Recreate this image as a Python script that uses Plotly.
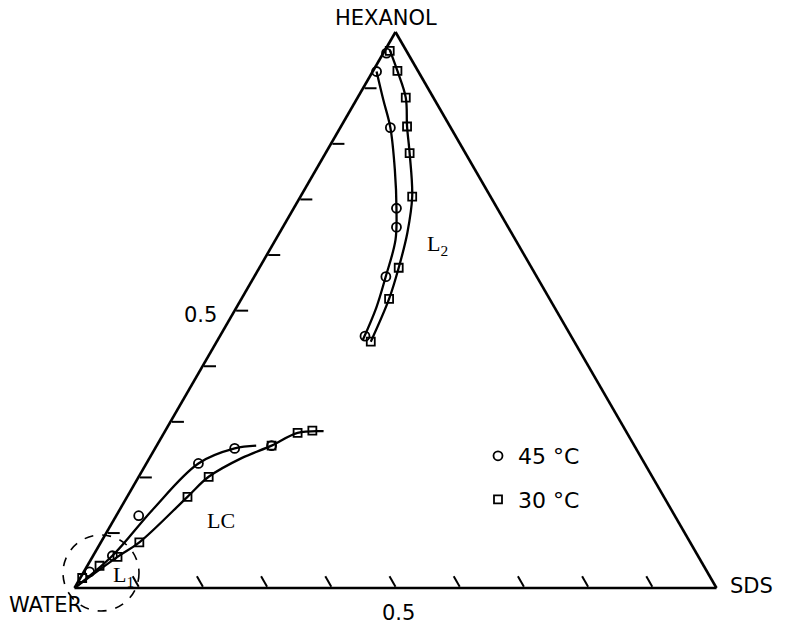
import plotly.graph_objects as go

W, H = 785, 629

# Compositions (mass fractions).
# a = HEXANOL (top), c = SDS (bottom right), b = WATER = 1 - a - c
# ---- experimental points, 45 °C (circles)
hex_45 = [0.962, 0.929, 0.828, 0.683, 0.649, 0.560, 0.453,
          0.130, 0.224, 0.251, 0.256, 0.029, 0.058]
sds_45 = [0.005, 0.006, 0.078, 0.160, 0.177, 0.205, 0.226,
          0.035, 0.081, 0.124, 0.179, 0.009, 0.030]
# ---- experimental points, 30 °C (squares)
hex_30 = [0.966, 0.930, 0.882, 0.830, 0.782, 0.704, 0.576, 0.520, 0.443,
          0.082, 0.164, 0.200, 0.256, 0.279, 0.283, 0.018, 0.040, 0.056]
sds_30 = [0.008, 0.038, 0.075, 0.103, 0.131, 0.174, 0.217, 0.230, 0.240,
          0.060, 0.094, 0.109, 0.179, 0.208, 0.229, 0.003, 0.019, 0.039]

# ---- phase boundary curves
l2_45_hex = [0.929, 0.878, 0.828, 0.752, 0.683, 0.626, 0.559, 0.504, 0.446]
l2_45_sds = [0.006, 0.042, 0.078, 0.123, 0.160, 0.187, 0.205, 0.218, 0.226]
l2_30_hex = [0.968, 0.930, 0.882, 0.830, 0.782, 0.704, 0.639, 0.576, 0.520, 0.443]
l2_30_sds = [0.007, 0.038, 0.075, 0.103, 0.131, 0.174, 0.199, 0.217, 0.230, 0.240]
lc_45_hex = [0.0, 0.058, 0.140, 0.224, 0.251, 0.256]
lc_45_sds = [0.0, 0.030, 0.051, 0.081, 0.124, 0.155]
lc_30_hex = [0.0, 0.056, 0.082, 0.164, 0.200, 0.234, 0.256, 0.279, 0.282]
lc_30_sds = [0.0, 0.039, 0.060, 0.094, 0.109, 0.144, 0.179, 0.208, 0.247]

tick_vals = [0.1, 0.2, 0.3, 0.4, 0.5, 0.6, 0.7, 0.8, 0.9]
tick_label = "0.5"

SANS = "DejaVu Sans"
SERIF = "Liberation Serif, Times New Roman, serif"


def water(h, s):
    return [1 - x - y for x, y in zip(h, s)]


fig = go.Figure()

for hh, ss in [(l2_45_hex, l2_45_sds), (l2_30_hex, l2_30_sds),
               (lc_45_hex, lc_45_sds), (lc_30_hex, lc_30_sds)]:
    fig.add_trace(go.Scatterternary(
        a=hh, b=water(hh, ss), c=ss, mode="lines",
        line=dict(color="black", width=2.3, shape="spline"),
        showlegend=False, hoverinfo="skip", cliponaxis=False))

fig.add_trace(go.Scatterternary(
    a=hex_45, b=water(hex_45, sds_45), c=sds_45, mode="markers",
    name="45 °C", legendgroup="g45",
    marker=dict(symbol="circle-open", size=9, color="black",
                line=dict(width=1.8, color="black")),
    cliponaxis=False))
fig.add_trace(go.Scatterternary(
    a=hex_30, b=water(hex_30, sds_30), c=sds_30, mode="markers",
    name="30 °C", legendgroup="g30",
    marker=dict(symbol="square-open", size=8, color="black",
                line=dict(width=1.8, color="black")),
    cliponaxis=False))

axis_common = dict(
    title=dict(text=""), linecolor="black", linewidth=2.6, showgrid=False,
    min=0,
)

fig.update_layout(
    width=W, height=H,
    margin=dict(l=0, r=0, t=0, b=0),
    paper_bgcolor="white",
    ternary=dict(
        sum=1,
        bgcolor="white",
        domain=dict(x=[72 / W, 719 / W], y=[41 / H, 597 / H]),
        aaxis=dict(**axis_common, ticks="inside", ticklen=12, tickwidth=1.6,
                   tickcolor="black", tickmode="array", tickvals=tick_vals,
                   showticklabels=False),
        baxis=dict(**axis_common, ticks="inside", ticklen=12, tickwidth=1.6,
                   tickcolor="black", tickmode="array", tickvals=tick_vals,
                   showticklabels=False),
        caxis=dict(**axis_common, ticks="", showticklabels=False),
    ),
    showlegend=True,
    legend=dict(x=478 / W, y=1 - 435 / H, xanchor="left", yanchor="top",
                font=dict(family=SANS, size=22, color="black"),
                traceorder="grouped", tracegroupgap=12,
                bgcolor="rgba(0,0,0,0)", borderwidth=0),
)


def ann(text, px, py, size, family, xanchor="center"):
    fig.add_annotation(text=text, x=px / W, y=1 - py / H, xref="paper",
                       yref="paper", showarrow=False, xanchor=xanchor,
                       yanchor="middle",
                       font=dict(family=family, size=size, color="black"))


ann("HEXANOL", 386, 18, 21, SANS)
ann("WATER", 45, 605, 21, SANS)
ann("SDS", 751, 586, 21, SANS)
ann(tick_label, 200, 315, 21, SANS)
ann(tick_label, 398, 613, 21, SANS)
ann("LC", 221, 520, 22, SERIF)
ann("L<sub>2</sub>", 437, 245, 22, SERIF)
ann("L<sub>1</sub>", 123, 576, 22, SERIF)

# dashed circle around the L1 region
fig.add_shape(type="circle", xref="paper", yref="paper",
              x0=63 / W, x1=139 / W, y0=1 - 611 / H, y1=1 - 535 / H,
              line=dict(color="black", width=1.6, dash="dash"))

fig.write_html("out.html")
